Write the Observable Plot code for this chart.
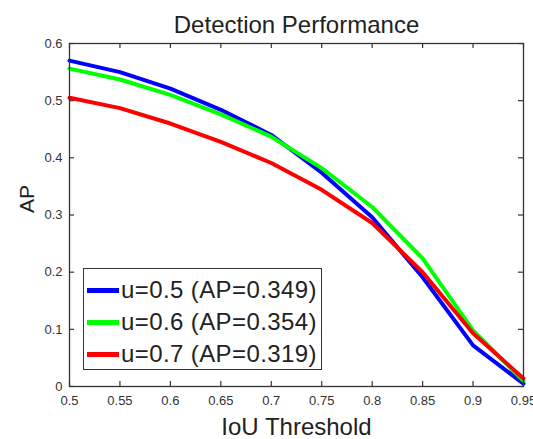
<!DOCTYPE html>
<html>
<head>
<meta charset="utf-8">
<script src="https://cdn.jsdelivr.net/npm/d3@7"></script>
<script src="https://cdn.jsdelivr.net/npm/@observablehq/plot@0.6"></script>
<style>
  html, body { margin: 0; padding: 0; background: #fff; }
  #wrap { position: relative; width: 533px; height: 439px; font-family: "Liberation Sans", Arial, sans-serif; }
  #legend { position: absolute; left: 83px; top: 268px; width: 239px; height: 102px;
    border: 1.5px solid #333; background: #fff; padding-top: 5px; box-sizing: border-box; }
  .row { display: flex; align-items: center; height: 32px; padding-left: 3px; }
  .sw { width: 32px; height: 5px; margin-right: 2px; }
  .lab { font-size: 24px; color: #222; letter-spacing: 0.4px; white-space: nowrap; }
</style>
</head>
<body>
<div id="wrap"></div>
<script>
const thresholds = [0.5, 0.55, 0.6, 0.65, 0.7, 0.75, 0.8, 0.85, 0.9, 0.95];
const apU05 = [0.570, 0.550, 0.521, 0.484, 0.440, 0.374, 0.296, 0.191, 0.072, 0.005];
const apU06 = [0.556, 0.537, 0.510, 0.476, 0.437, 0.382, 0.314, 0.224, 0.098, 0.010];
const apU07 = [0.505, 0.487, 0.460, 0.428, 0.391, 0.344, 0.286, 0.200, 0.093, 0.014];
const seriesNames = ["u=0.5 (AP=0.349)", "u=0.6 (AP=0.354)", "u=0.7 (AP=0.319)"];
const seriesColors = ["#0000ff", "#00ff00", "#ff0000"];
const xTicks = [0.5, 0.55, 0.6, 0.65, 0.7, 0.75, 0.8, 0.85, 0.9, 0.95];
const yTicks = [0, 0.1, 0.2, 0.3, 0.4, 0.5, 0.6];

const W = 533, H = 439, mt = 43, mb = 53, ml = 69, mr = 10;
const innerW = W - ml - mr, innerH = H - mt - mb;
const tickLen = 5;
const ink = "#333";

const seriesVals = [apU05, apU06, apU07];
const table = [];
seriesVals.forEach((vals, i) => vals.forEach((v, j) => table.push({x: thresholds[j], y: v, s: seriesNames[i]})));

const plot = Plot.plot({
  width: W, height: H,
  marginTop: mt, marginBottom: mb, marginLeft: ml, marginRight: mr,
  style: {fontFamily: "'Liberation Sans', Arial, sans-serif", background: "#fff", color: ink},
  x: {domain: [0.5, 0.95]},
  y: {domain: [0, 0.6]},
  color: {domain: seriesNames, range: seriesColors},
  marks: [
    Plot.axisX({ticks: xTicks, tickSize: 0, tickPadding: 9, tickFormat: d => String(d), fontSize: 13, label: null, fill: ink}),
    Plot.axisY({ticks: yTicks, tickSize: 0, tickPadding: 7, tickFormat: d => String(d), fontSize: 13, label: null, fill: ink}),
    Plot.tickX(xTicks, {x: d => d, insetTop: innerH - tickLen, stroke: ink, strokeWidth: 1.2}),
    Plot.tickX(xTicks, {x: d => d, insetBottom: innerH - tickLen, stroke: ink, strokeWidth: 1.2}),
    Plot.tickY(yTicks, {y: d => d, insetRight: innerW - tickLen, stroke: ink, strokeWidth: 1.2}),
    Plot.tickY(yTicks, {y: d => d, insetLeft: innerW - tickLen, stroke: ink, strokeWidth: 1.2}),
    Plot.line(table, {x: "x", y: "y", z: "s", stroke: "s", strokeWidth: 4, strokeLinejoin: "round"}),
    Plot.frame({stroke: ink, strokeWidth: 1.3}),
    Plot.text(["Detection Performance"], {frameAnchor: "top", lineAnchor: "bottom", dy: -11, fontSize: 24, fill: "#222"}),
    Plot.text(["IoU Threshold"], {frameAnchor: "bottom", lineAnchor: "bottom", dy: 48, fontSize: 24, fill: "#222"}),
    Plot.text(["AP"], {frameAnchor: "left", lineAnchor: "bottom", rotate: -90, dx: -36, dy: -2, fontSize: 21, fill: "#222"})
  ]
});

const wrap = document.getElementById("wrap");
wrap.appendChild(plot);
const legend = document.createElement("div");
legend.id = "legend";
seriesNames.forEach((name, i) => {
  const row = document.createElement("div");
  row.className = "row";
  const sw = document.createElement("div");
  sw.className = "sw";
  sw.style.background = seriesColors[i];
  const lab = document.createElement("span");
  lab.className = "lab";
  lab.textContent = name;
  row.appendChild(sw);
  row.appendChild(lab);
  legend.appendChild(row);
});
wrap.appendChild(legend);
</script>
</body>
</html>
